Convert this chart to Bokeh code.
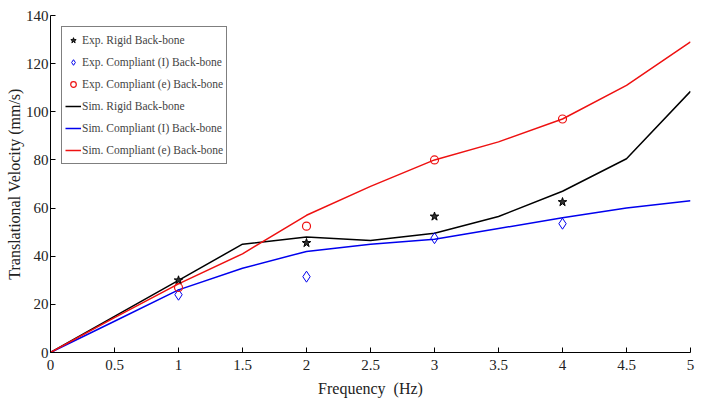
from bokeh.plotting import figure
from bokeh.embed import file_html
from bokeh.resources import INLINE
from bokeh.models import Legend, LegendItem, FixedTicker

freq_sim = [0, 0.5, 1, 1.5, 2, 2.5, 3, 3.5, 4, 4.5, 5]
sim_rigid = [0, 15, 30, 45, 48, 46.5, 49.5, 56.5, 67, 80.5, 108.5]
sim_comp_i = [0, 13, 26, 35, 42, 45, 47, 51.5, 56, 60, 63]
sim_comp_e = [0, 14.5, 28.5, 41, 57, 69, 80, 87.5, 97, 111, 129]

freq_exp = [1, 2, 3, 4]
exp_rigid = [30, 45.5, 56.5, 62.5]
exp_comp_i = [24, 31.5, 47.5, 53.5]
exp_comp_e = [27, 52.5, 80, 97]

x_ticks = [0, 0.5, 1, 1.5, 2, 2.5, 3, 3.5, 4, 4.5, 5]
y_ticks = [0, 20, 40, 60, 80, 100, 120, 140]

FONT = "Liberation Serif"

p = figure(width=714, height=400, output_backend="svg", toolbar_location=None,
           x_range=(0, 5), y_range=(0, 140),
           min_border_left=50, min_border_right=24, min_border_top=15, min_border_bottom=48)
p.outline_line_color = None
p.xgrid.visible = False
p.ygrid.visible = False

r_sr = p.line(freq_sim, sim_rigid, line_color="black", line_width=1.5)
r_si = p.line(freq_sim, sim_comp_i, line_color="#0000ee", line_width=1.5)
r_se = p.line(freq_sim, sim_comp_e, line_color="#ee1111", line_width=1.5)

r_er = p.scatter(freq_exp, exp_rigid, marker="star", size=9, fill_color="#333333", line_color="black", line_width=1)
r_ei = p.scatter(freq_exp, exp_comp_i, marker="diamond", size=11, fill_color=None, line_color="#0000ee", line_width=1)
r_ee = p.scatter(freq_exp, exp_comp_e, marker="circle", size=8, fill_color=None, line_color="#ee1111", line_width=1.2)

for ax in (p.xaxis[0], p.yaxis[0]):
    ax.major_label_text_font = FONT
    ax.major_label_text_font_size = "15px"
    ax.axis_label_text_font = FONT
    ax.axis_label_text_font_size = "16px"
    ax.axis_label_text_font_style = "normal"
    ax.major_tick_in = 5
    ax.major_tick_out = 0
    ax.minor_tick_line_color = None
    ax.axis_line_color = "black"
    ax.major_tick_line_color = "black"
    ax.major_label_text_color = "#222222"
    ax.axis_label_text_color = "#222222"

p.xaxis[0].ticker = FixedTicker(ticks=x_ticks)
p.yaxis[0].ticker = FixedTicker(ticks=y_ticks)
p.xaxis[0].axis_label = "Frequency\u00a0\u00a0(Hz)"
p.yaxis[0].axis_label = "Translational Velocity (mm/s)"
p.xaxis[0].major_label_standoff = 7
p.yaxis[0].major_label_standoff = 2
p.xaxis[0].axis_label_standoff = 7
p.yaxis[0].axis_label_standoff = 0

legend = Legend(items=[
    LegendItem(label="Exp. Rigid Back-bone", renderers=[r_er]),
    LegendItem(label="Exp. Compliant (I) Back-bone", renderers=[r_ei]),
    LegendItem(label="Exp. Compliant (e) Back-bone", renderers=[r_ee]),
    LegendItem(label="Sim. Rigid Back-bone", renderers=[r_sr]),
    LegendItem(label="Sim. Compliant (I) Back-bone", renderers=[r_si]),
    LegendItem(label="Sim. Compliant (e) Back-bone", renderers=[r_se]),
], location="top_left")
legend.label_text_font = FONT
legend.label_text_font_size = "11.5px"
legend.label_standoff = 1
legend.glyph_width = 16
legend.glyph_height = 14
legend.spacing = 2
legend.padding = 3
legend.margin = 11
legend.border_line_color = "black"
legend.border_line_width = 1
legend.background_fill_alpha = 1
legend.label_height = 20
p.add_layout(legend)

open("out.html", "w").write(file_html(p, INLINE))
